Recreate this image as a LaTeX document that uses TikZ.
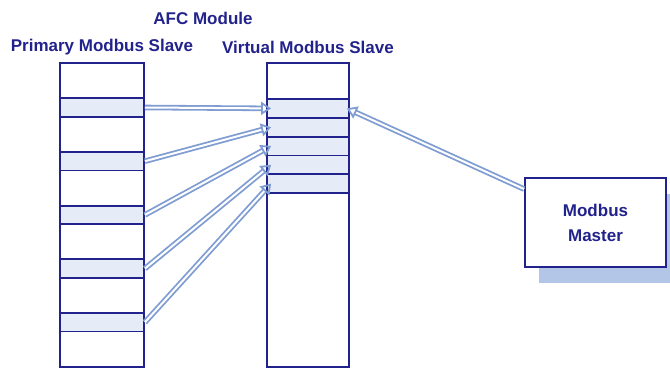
\documentclass[tikz,border=0pt]{standalone}
\usepackage{fontspec}
\setmainfont{Liberation Sans}
\usetikzlibrary{arrows.meta}
\definecolor{navy}{HTML}{22228C}
\definecolor{cellfill}{HTML}{E6ECF7}
\definecolor{arrowblue}{HTML}{7F9DD2}
\definecolor{shadowblue}{HTML}{B4C6E7}
\begin{document}
\begin{tikzpicture}[x=1pt,y=-1pt,
  col/.style={draw=navy, line width=1.8pt, fill=white, inner sep=0pt, minimum width=#1, minimum height=304pt},
  lcell/.style={draw=navy, line width=1.8pt, fill=cellfill, inner sep=0pt, minimum width=84pt, minimum height=18.5pt},
  rcell/.style={draw=navy, line width=1.8pt, fill=cellfill, inner sep=0pt, minimum width=82pt, minimum height=18.8pt},
  head/.style={text=navy, font=\fontsize{17}{20}\selectfont\bfseries, inner sep=0pt},
  link/.style={draw=arrowblue, line width=1.8pt, double=white, double distance=2pt,
    -{Triangle[open, length=10pt, width=13pt]}},
]
\useasboundingbox (0,0) rectangle (670,368);
\node[head] (afc) at (203,18) {AFC Module};
\node[head] (ph) at (102,47) {Primary Modbus Slave};
\node[head] (vh) at (308,47) {Virtual Modbus Slave};

\node[col=84pt] (L) at (102,215) {};
\node[col=82pt] (R) at (308,215) {};
\foreach \i/\y in {1/107.5,2/161.2,3/214.9,4/268.6,5/322.3}
  \node[lcell] (L\i) at (102,\y) {};
\foreach \i in {1,...,5}
  \node[rcell] (R\i) at (308,{99+18.8*(\i-0.5)}) {};

\node[fill=shadowblue, minimum width=141pt, minimum height=89pt, inner sep=0pt] (sh) at (609.5,238.5) {};
\node[draw=navy, line width=1.8pt, fill=white, minimum width=141pt, minimum height=89pt, inner sep=0pt,
  text=navy, font=\fontsize{17}{25}\selectfont\bfseries, align=center] (M) at (595.5,222.5) {Modbus\\Master};

\foreach \i in {1,...,5}
  \draw[link] (L\i.east) -- ([xshift=5pt]R\i.west);
\draw[link] ([yshift=-12pt]M.north west) -- ([xshift=-3pt]R1.east);
\end{tikzpicture}
\end{document}
